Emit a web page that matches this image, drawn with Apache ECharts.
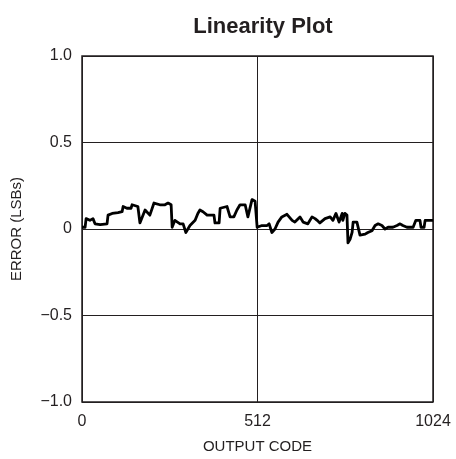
<!DOCTYPE html>
<html>
<head>
<meta charset="utf-8">
<script src="https://cdn.jsdelivr.net/npm/echarts@6/dist/echarts.min.js"></script>
<style>html,body{margin:0;padding:0;background:#fff;}#c{width:456px;height:459px;}</style>
</head>
<body>
<div id="c"></div>
<script>
const titleText = 'Linearity Plot';
const xName = 'OUTPUT CODE';
const yName = 'ERROR (LSBs)';
const xTickLabels = {0: '0', 512: '512', 1024: '1024'};
const yTickLabels = {'1': '1.0', '0.5': '0.5', '0': '0', '-0.5': '\u22120.5', '-1': '\u22121.0'};
const codes = [0,9,12,23,32,38,53,73,76,88,105,117,120,131,143,146,163,169,184,198,210,227,242,251,260,263,271,286,295,303,315,330,338,344,353,365,379,385,388,400,403,423,432,443,452,461,476,484,496,505,511,525,540,546,554,563,572,583,598,613,621,636,645,659,671,680,686,694,709,724,732,741,750,759,761,767,773,776,782,788,791,802,811,826,834,846,855,864,875,884,893,907,919,928,936,948,966,971,974,986,989,998,1001,1024];
const errors = [0.01,0.01,0.06,0.05,0.06,0.03,0.025,0.03,0.08,0.09,0.095,0.10,0.13,0.12,0.12,0.14,0.13,0.035,0.11,0.08,0.15,0.14,0.14,0.15,0.14,0.01,0.05,0.03,0.03,-0.02,0.02,0.05,0.09,0.11,0.10,0.08,0.08,0.08,0.035,0.035,0.12,0.13,0.07,0.07,0.11,0.14,0.14,0.07,0.17,0.16,0.01,0.02,0.02,0.03,-0.02,0.0,0.04,0.07,0.085,0.05,0.04,0.07,0.04,0.03,0.07,0.06,0.05,0.035,0.06,0.07,0.05,0.09,0.04,0.09,0.05,0.09,0.08,-0.08,-0.06,-0.02,0.04,0.04,-0.035,-0.03,-0.02,-0.01,0.02,0.03,0.02,0.0,0.01,0.01,0.02,0.03,0.02,0.01,0.01,0.01,0.05,0.05,0.01,0.01,0.05,0.05];

const font = "'Liberation Sans Narrow', 'Liberation Sans', Arial, sans-serif";
const chart = echarts.init(document.getElementById('c'), null, {renderer: 'canvas'});
chart.setOption({
  animation: false,
  backgroundColor: '#fff',
  title: {
    text: titleText, left: 258, top: 11, textAlign: 'center',
    textStyle: {fontFamily: font, fontWeight: 'bold', fontSize: 22, color: '#231f20'}
  },
  grid: {left: 82, right: 23, top: 56, bottom: 54, show: true, borderColor: '#231f20', borderWidth: 1.5, backgroundColor: 'transparent'},
  xAxis: {
    type: 'value', min: 0, max: 1024, interval: 512,
    name: xName, nameLocation: 'middle', nameGap: 37,
    nameTextStyle: {fontFamily: font, fontSize: 15, color: '#231f20'},
    axisLine: {show: false}, axisTick: {show: false},
    axisLabel: {fontFamily: font, fontSize: 16, color: '#231f20', margin: 12, formatter: v => xTickLabels[v] ?? ''},
    splitLine: {show: true, lineStyle: {color: '#231f20', width: 1}}
  },
  yAxis: {
    type: 'value', min: -1, max: 1, interval: 0.5,
    name: yName, nameLocation: 'middle', nameGap: 58, nameRotate: 90,
    nameTextStyle: {fontFamily: font, fontSize: 15, color: '#231f20'},
    axisLine: {show: false}, axisTick: {show: false},
    axisLabel: {fontFamily: font, fontSize: 16, color: '#231f20', margin: 10, formatter: v => yTickLabels[String(v)] ?? ''},
    splitLine: {show: true, lineStyle: {color: '#231f20', width: 1}}
  },
  series: [{
    type: 'line', data: codes.map((c, i) => [c, errors[i]]),
    showSymbol: false, symbol: 'none',
    lineStyle: {color: '#000', width: 2.8, join: 'round'}
  }]
});
</script>
</body>
</html>
